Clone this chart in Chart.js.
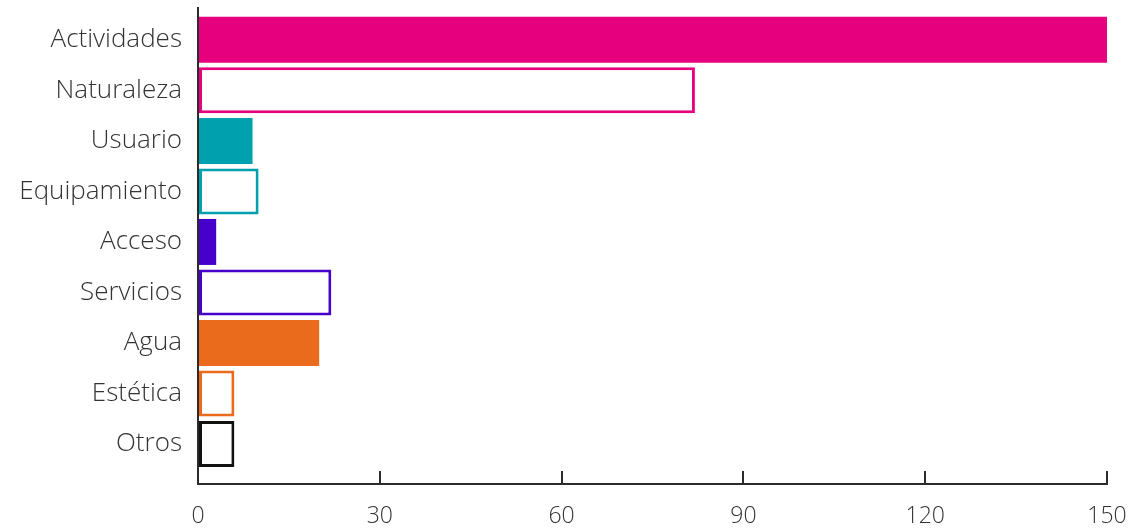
<!DOCTYPE html>
<html>
<head>
<meta charset="utf-8">
<script src="https://cdn.jsdelivr.net/npm/chart.js@4.4.1/dist/chart.umd.min.js"></script>
<style>
  html, body { margin: 0; padding: 0; background: #fff; }
  #wrap { width: 1132px; height: 528px; }
</style>
</head>
<body>
<div id="wrap"><canvas id="chart"></canvas></div>
<script>
const categories = ['Actividades', 'Naturaleza', 'Usuario', 'Equipamiento', 'Acceso', 'Servicios', 'Agua', 'Estética', 'Otros']
const values = [150, 82, 9, 10, 3, 22, 20, 6, 6]
const xTicks = [0, 30, 60, 90, 120, 150]

// filled bar or outline only
const filled = [true, false, true, false, true, false, true, false, false]
const colors = ['#e6007e', '#e6007e', '#00a0ae', '#00a0ae', '#4700cc', '#4700cc', '#e96b1b', '#e96b1b', '#111111']

const axisColor = '#2b2b2b'
const fontFamily = '"Open Sans", Lato, sans-serif'

const ctx = document.getElementById('chart')

new Chart(ctx, {
  type: 'bar',
  data: {
    datasets: [{
      data: categories.map((c, i) => ({x: values[i], y: i})),
      backgroundColor: colors.map((c, i) => filled[i] ? c : '#ffffff'),
      borderColor: colors,
      borderWidth: filled.map(f => f ? 0 : 3),
      borderSkipped: false,
      barPercentage: 0.91,
      categoryPercentage: 1
    }]
  },
  options: {
    indexAxis: 'y',
    responsive: true,
    maintainAspectRatio: false,
    animation: false,
    layout: {
      padding: {top: 8, right: 25, left: 0, bottom: 0}
    },
    plugins: {
      legend: {display: false},
      tooltip: {enabled: false}
    },
    scales: {
      x: {
        type: 'linear',
        min: 0,
        max: 150,
        afterBuildTicks: (scale) => {
          scale.ticks = xTicks.map(v => ({value: v}))
        },
        afterFit: (scale) => {
          scale.height = 44
          scale.paddingLeft = 0
          scale.paddingRight = 0
        },
        grid: {
          drawOnChartArea: false,
          drawTicks: true,
          tickLength: -13,
          color: axisColor,
          lineWidth: 2
        },
        border: {display: true, color: axisColor, width: 2},
        ticks: {
          color: '#333',
          padding: 32,
          font: {family: fontFamily, size: 23, weight: 300}
        }
      },
      y: {
        type: 'linear',
        reverse: true,
        offset: false,
        min: -0.63,
        max: 8.79,
        afterBuildTicks: (scale) => {
          scale.ticks = categories.map((c, i) => ({value: i}))
        },
        afterFit: (scale) => {
          scale.width = 198
          scale.paddingTop = 0
          scale.paddingBottom = 0
        },
        grid: {display: false, drawTicks: false, offset: false},
        border: {display: true, color: axisColor, width: 2},
        ticks: {
          color: '#333',
          padding: 16,
          autoSkip: false,
          callback: (v) => categories[v],
          font: {family: fontFamily, size: 26, weight: 300}
        }
      }
    }
  }
})
</script>
</body>
</html>
